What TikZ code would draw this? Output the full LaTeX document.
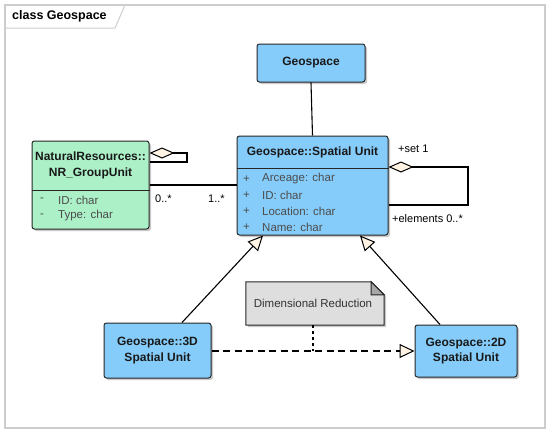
\documentclass[tikz,border=0pt]{standalone}
\usepackage{fontspec}
\setmainfont{Liberation Sans}
\usetikzlibrary{arrows.meta,shadows,calc}
\definecolor{ublue}{RGB}{133,204,250}
\definecolor{ugreen}{RGB}{172,240,200}
\definecolor{unote}{RGB}{222,222,222}
\definecolor{ucream}{RGB}{255,244,228}
\definecolor{uframe}{RGB}{205,205,205}
\begin{document}
\begin{tikzpicture}[x=1pt,y=-1pt,
  shad/.style={drop shadow={shadow xshift=2pt,shadow yshift=-2pt,fill=black!30,opacity=0.7}},
  cls/.style={draw=black!85, line width=1pt, rounded corners=2.5pt, fill=ublue, shad,
    inner sep=0pt, align=center, text=black!90, font=\fontsize{12}{15.5}\selectfont\bfseries},
  hdr/.style={inner sep=0pt, align=center, text=black!90, font=\fontsize{12}{16}\selectfont\bfseries},
  attr/.style={inner sep=0pt, anchor=west, text=black!70, font=\fontsize{11.5}{14}\selectfont},
  lbl/.style={inner sep=0pt, anchor=west, text=black, font=\fontsize{11}{13}\selectfont},
  conn/.style={draw=black, line width=1.1pt},
  agg/.style={conn, {Diamond[length=25pt,width=11pt,fill=ucream,line width=1pt]}-},
  gen/.style={conn, -{Triangle[length=15pt,width=14pt,fill=ucream,line width=1pt]}}
]
\useasboundingbox (0,0) rectangle (550,434);
% frame
\draw[uframe, line width=1.2pt] (5,5) rectangle (545,428);
\draw[uframe, line width=1pt] (5,28) -- (115,28) -- (125,5);
\node[inner sep=0pt, anchor=west, font=\fontsize{12.5}{15}\selectfont\bfseries] (title) at (12,16.5) {class Geospace};

% classes
\node[cls, minimum width=108pt, minimum height=38pt] (geo) at (311,63) {Geospace};
\node[cls, minimum width=151pt, minimum height=99pt] (su) at (312.5,185.5) {};
\draw[black!85, line width=1pt] (su.west |- 0,168) -- (su.east |- 0,168);
\node[hdr] (suh) at (312.5,152) {Geospace::Spatial Unit};
\node[attr] (sa1p) at (243,179) {+}; \node[attr] (sa1) at (262,179) {Arceage: char};
\node[attr] (sa2p) at (243,195) {+}; \node[attr] (sa2) at (262,195) {ID: char};
\node[attr] (sa3p) at (243,211) {+}; \node[attr] (sa3) at (262,211) {Location: char};
\node[attr] (sa4p) at (243,227) {+}; \node[attr] (sa4) at (262,227) {Name: char};

\node[cls, fill=ugreen, minimum width=117pt, minimum height=88pt] (nr) at (90.5,185) {};
\draw[black!85, line width=1pt] (nr.west |- 0,190) -- (nr.east |- 0,190);
\node[hdr] (nrh) at (90.5,165) {NaturalResources::\\NR\_GroupUnit};
\node[attr] (na1p) at (40,200) {-}; \node[attr] (na1) at (58,200) {ID: char};
\node[attr] (na2p) at (40,216) {-}; \node[attr] (na2) at (58,216) {Type: char};

\node[cls, minimum width=107pt, minimum height=55pt] (d3) at (157.5,350.5) {Geospace::3D\\Spatial Unit};
\node[cls, minimum width=102pt, minimum height=52pt] (d2) at (466,351) {Geospace::2D\\Spatial Unit};

% note
\node[minimum width=138pt, minimum height=43pt, inner sep=0pt] (note) at (315,303.5) {};
\draw[black!85, line width=1pt, fill=unote, shad]
  (note.north west) -- ($(note.north east)+(-13,0)$) -- ($(note.north east)+(0,13)$)
  -- (note.south east) -- (note.south west) -- cycle;
\draw[black!85, line width=1pt, fill=black!35]
  ($(note.north east)+(-13,0)$) -- ($(note.north east)+(-13,13)$) -- ($(note.north east)+(0,13)$) -- cycle;
\node[inner sep=0pt, text=black!80, font=\fontsize{11.5}{14}\selectfont] (notet) at (313,303) {Dimensional Reduction};

% connectors
\draw[conn] (geo.south) -- (su.north);
\draw[conn] (nr.east |- 0,185) -- (su.west |- 0,185);
\node[lbl] (m1) at (155,199) {0..*};
\node[lbl] (m2) at (208,199) {1..*};

\coordinate (nrA) at (nr.east |- 0,153);
\coordinate (nrB) at (187,153);
\coordinate (nrC) at (187,162);
\coordinate (nrD) at (nr.east |- 0,162);
\draw[agg] (nrA) -- (nrB) -- (nrC) -- (nrD);

\coordinate (suA) at (su.east |- 0,167);
\coordinate (suB) at (468,167);
\coordinate (suC) at (468,205);
\coordinate (suD) at (su.east |- 0,205);
\draw[agg] (suA) -- (suB) -- (suC) -- (suD);
\node[lbl] (l1) at (398,149) {+set 1};
\node[lbl] (l2) at (392,219) {+elements 0..*};

\coordinate (g1s) at (d3.north -| 182,0);
\coordinate (g1e) at (su.south -| 263,0);
\draw[gen] (g1s) -- (g1e);
\coordinate (g2s) at (d2.north -| 440,0);
\coordinate (g2e) at (su.south -| 360,0);
\draw[gen] (g2s) -- (g2e);

\draw[gen, dash pattern=on 7pt off 4.5pt] (d3.east |- 0,351) -- (d2.west |- 0,351);
\coordinate (nl) at (313,351);
\draw[conn, dash pattern=on 3pt off 3pt] (note.south -| 313,0) -- (nl);
\end{tikzpicture}
\end{document}
